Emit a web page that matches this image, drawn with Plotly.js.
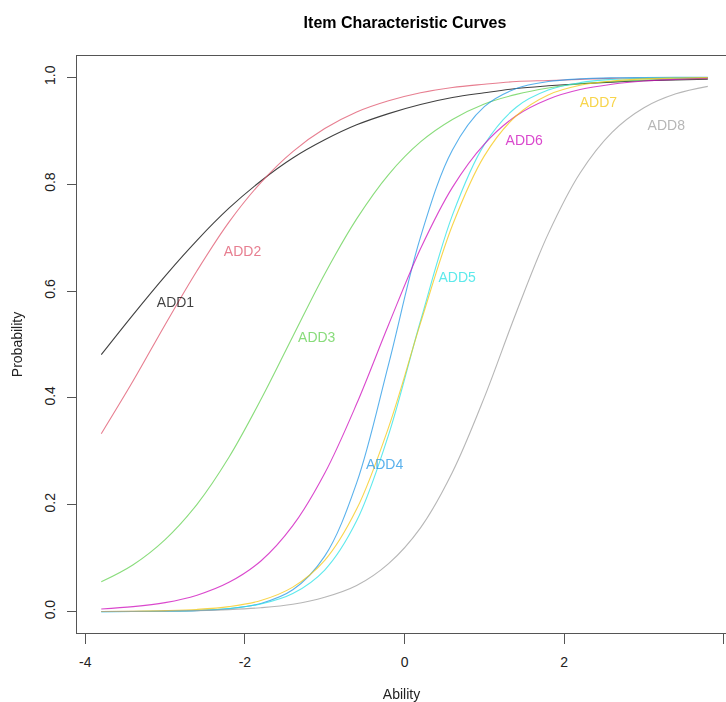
<!DOCTYPE html>
<html>
<head>
<meta charset="utf-8">
<script src="https://cdn.plot.ly/plotly-3.0.1.min.js"></script>
<style>html,body{margin:0;padding:0;background:#fff;}#chart{width:726px;height:702px;}</style>
</head>
<body>
<div id="chart"></div>
<script>
// Ability grid (theta)
const ability = [-3.8,-3.4,-3.0,-2.6,-2.2,-1.8,-1.4,-1.0,-0.6,-0.2,0.2,0.6,1.0,1.4,1.8,2.2,2.6,3.0,3.4,3.8];

// Probability values, one array per item
const add1 = [0.481,0.556,0.628,0.695,0.755,0.806,0.849,0.883,0.911,0.932,0.949,0.962,0.971,0.979,0.984,0.988,0.991,0.9935,0.9952,0.9964];
const add2 = [0.333,0.432,0.537,0.638,0.729,0.803,0.861,0.904,0.935,0.956,0.971,0.981,0.987,0.992,0.994,0.996,0.998,0.998,0.999,0.9993];
const add3 = [0.056,0.088,0.135,0.201,0.289,0.397,0.515,0.632,0.735,0.818,0.879,0.921,0.950,0.968,0.980,0.988,0.992,0.995,0.997,0.998];
const add4 = [0.0001,0.0003,0.0008,0.0021,0.0058,0.0155,0.041,0.104,0.241,0.463,0.701,0.864,0.945,0.979,0.992,0.997,0.999,0.9996,0.9999,0.99995];
const add5 = [0.0002,0.0004,0.0010,0.0025,0.0060,0.0144,0.034,0.078,0.170,0.331,0.544,0.742,0.874,0.944,0.976,0.990,0.996,0.998,0.9993,0.9997];
const add6 = [0.0052,0.0095,0.0171,0.031,0.055,0.095,0.161,0.259,0.389,0.537,0.679,0.794,0.875,0.928,0.959,0.977,0.987,0.993,0.996,0.998];
const add7 = [0.0004,0.0009,0.0020,0.0043,0.0096,0.021,0.046,0.096,0.192,0.345,0.540,0.723,0.853,0.928,0.967,0.985,0.993,0.997,0.9986,0.9994];
const add8 = [0.0003,0.0006,0.0011,0.0021,0.0040,0.0075,0.014,0.027,0.049,0.090,0.157,0.261,0.401,0.560,0.707,0.821,0.897,0.943,0.969,0.983];

const itemNames = ["ADD1","ADD2","ADD3","ADD4","ADD5","ADD6","ADD7","ADD8"];
const itemColors = ["#000000","#DF536B","#61D04F","#2297E6","#28E2E5","#CD0BBC","#F5C710","#9E9E9E"];

// label positions
const labelX = [-2.87,-2.03,-1.10,-0.25,0.66,1.50,2.43,3.28];
const labelY = [0.576,0.673,0.512,0.273,0.624,0.879,0.951,0.907];

const xTicks = [-4,-2,0,2,4];
const yTicks = [0,0.2,0.4,0.6,0.8,1.0];
const yTickText = ["0.0","0.2","0.4","0.6","0.8","1.0"];

const series = [add1,add2,add3,add4,add5,add6,add7,add8];
const traces = series.map((ys,i)=>({
  type:"scatter", mode:"lines", x:ability, y:ys, name:itemNames[i],
  line:{color:itemColors[i], width:1.1, shape:"spline", smoothing:1},
  opacity:0.75, hoverinfo:"skip"
}));
traces.push({
  type:"scatter", mode:"text", x:labelX, y:labelY, text:itemNames,
  textposition:"middle center",
  textfont:{family:"Liberation Sans, Arial, sans-serif", size:14, color:itemColors},
  opacity:0.75, hoverinfo:"skip", showlegend:false
});

const font = {family:"Liberation Sans, Arial, sans-serif", size:14, color:"#222"};
const layout = {
  width:726, height:702,
  margin:{l:77, r:0, t:56, b:69, pad:0},
  paper_bgcolor:"#fff", plot_bgcolor:"#fff",
  showlegend:false,
  font:font,
  title:{text:"<b>Item Characteristic Curves</b>", font:{family:"Liberation Sans, Arial, sans-serif", size:16, color:"#000"},
    xref:"container", yref:"container", x:405/726, xanchor:"center", y:1-22/702, yanchor:"middle"},
  xaxis:{
    range:[-4.104, 4.028], tickmode:"array", tickvals:xTicks, ticktext:xTicks.map(String),
    ticks:"outside", ticklen:10, tickcolor:"#555", tickwidth:1, ticklabelstandoff:6,
    showline:true, linecolor:"#555", linewidth:1, mirror:true,
    showgrid:false, zeroline:false, automargin:false,
    title:{text:"Ability", font:font, standoff:20}
  },
  yaxis:{
    range:[-0.0398, 1.0398], tickmode:"array", tickvals:yTicks, ticktext:yTickText,
    ticks:"outside", ticklen:9, tickcolor:"#555", tickwidth:1, tickangle:-90, ticklabelstandoff:6,
    showline:true, linecolor:"#555", linewidth:1, mirror:false,
    showgrid:false, zeroline:false, automargin:false,
    title:{text:"Probability", font:font, standoff:16}
  }
};
Plotly.newPlot("chart", traces, layout, {displayModeBar:false, staticPlot:true});
</script>
</body>
</html>
